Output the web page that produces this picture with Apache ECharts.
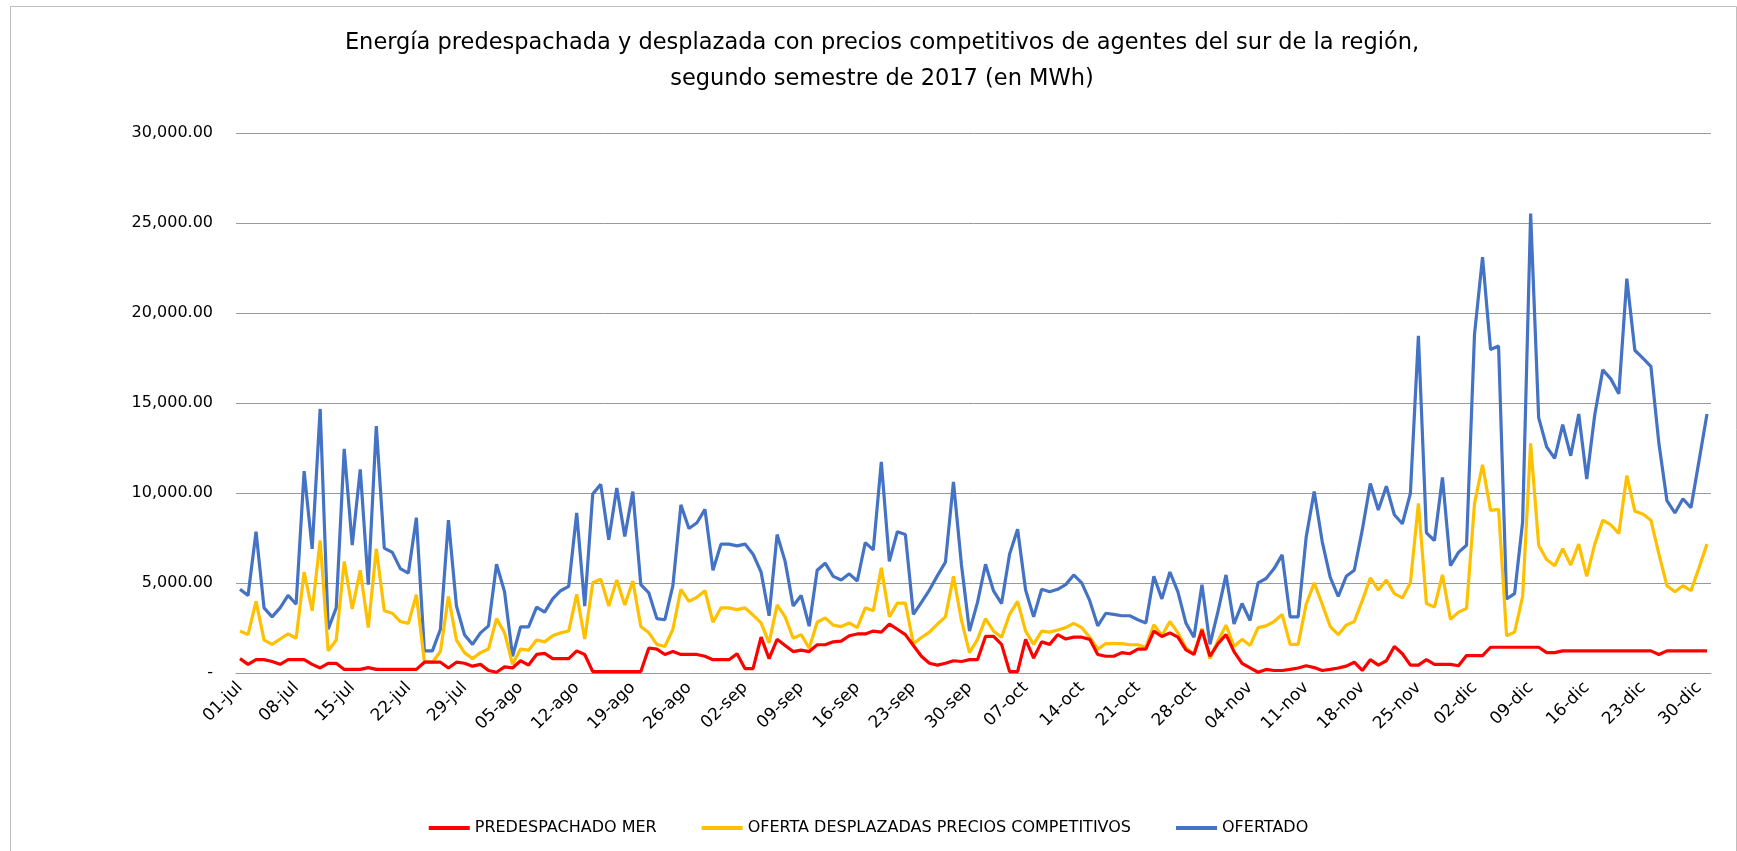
<!DOCTYPE html>
<html>
<head>
<meta charset="utf-8">
<title>Energía predespachada y desplazada</title>
<script src="https://cdn.jsdelivr.net/npm/echarts@6/dist/echarts.min.js"></script>
<style>
  html, body { margin: 0; padding: 0; background: #fff; }
  #chart { width: 1737px; height: 851px; }
</style>
</head>
<body>
<div id="chart"></div>
<script>
// meses del segundo semestre y sus días
const months = ['jul', 'ago', 'sep', 'oct', 'nov', 'dic'];
const monthDays = [31, 31, 30, 31, 30, 31];

const categories = [];
months.forEach((m, i) => {
  for (let d = 1; d <= monthDays[i]; d++) {
    categories.push((d < 10 ? '0' + d : '' + d) + '-' + m);
  }
});

const seriesNames = ['PREDESPACHADO MER', 'OFERTA DESPLAZADAS PRECIOS COMPETITIVOS', 'OFERTADO'];

// valores diarios en MWh
const predespachado = [
  800, 480, 740, 740, 640, 480, 740, 740, 740, 480, 280, 540, 540, 200, 200, 200, 300, 200, 200, 200, 200, 200, 200, 600,
  600, 600, 280, 600, 540, 380, 480, 140, 40, 340, 280, 680, 440, 1030, 1090, 800, 800, 800, 1230, 1030, 80, 80, 80, 80,
  80, 80, 80, 1390, 1330, 1030, 1190, 1030, 1030, 1030, 930, 740, 740, 740, 1070, 240, 240, 1990, 800, 1870, 1530, 1190, 1270,
  1190, 1570, 1570, 1730, 1770, 2070, 2170, 2170, 2330, 2270, 2720, 2430, 2130, 1530, 930, 540, 440, 540, 680, 640, 740, 740, 2030,
  2030, 1590, 80, 80, 1870, 830, 1730, 1590, 2130, 1890, 1990, 1990, 1870, 1030, 930, 930, 1130, 1070, 1330, 1330, 2330, 2030, 2230, 1990,
  1280, 1030, 2390, 930, 1630, 2130, 1190, 540, 280, 40, 200, 140, 140, 200, 280, 400, 300, 140, 200, 280, 380, 600, 140, 740,
  440, 680, 1470, 1070, 440, 440, 740, 480, 480, 480, 400, 970, 970, 970, 1430, 1430, 1430, 1430, 1430, 1430, 1430, 1130, 1130, 1230,
  1230, 1230, 1230, 1230, 1230, 1230, 1230, 1230, 1230, 1230, 1230, 1030, 1230, 1230, 1230, 1230, 1230, 1230
];

const ofertaDesplazada = [
  2330, 2130, 3980, 1830, 1590, 1890, 2170, 1930, 5610, 3460, 7360, 1230, 1830, 6200, 3560, 5710, 2520, 6900, 3460, 3320, 2860, 2760, 4350, 640,
  600, 1190, 4250, 1830, 1130, 800, 1130, 1330, 3020, 2230, 480, 1330, 1270, 1830, 1730, 2070, 2230, 2330, 4370, 1890, 5010, 5210, 3720, 5170,
  3780, 5110, 2580, 2230, 1590, 1470, 2430, 4650, 3980, 4210, 4570, 2820, 3620, 3620, 3520, 3620, 3220, 2780, 1670, 3780, 3120, 1930, 2130,
  1380, 2820, 3060, 2660, 2580, 2780, 2520, 3620, 3460, 5840, 3120, 3880, 3880, 1630, 1970, 2270, 2720, 3120, 5370, 2920, 1130, 1870, 3020,
  2330, 1990, 3260, 3980, 2330, 1590, 2330, 2270, 2390, 2520, 2760, 2520, 1990, 1330, 1630, 1630, 1630, 1570, 1570, 1430, 2680, 2070, 2860, 2230,
  1400, 1030, 2470, 800, 1790, 2660, 1470, 1870, 1530, 2520, 2620, 2860, 3260, 1590, 1590, 3820, 5010, 3820, 2580, 2130, 2660, 2860, 4020, 5280,
  4610, 5170, 4410, 4170, 5010, 9420, 3860, 3660, 5450, 2980, 3380, 3580, 9420, 11570, 9030, 9090, 2070, 2270, 4250, 12760, 7100, 6300, 5960, 6900,
  6000, 7160, 5370, 7160, 8490, 8230, 7750, 10970, 8990, 8830, 8490, 6600, 4850, 4510, 4850, 4570, 5840, 7160
];

const ofertado = [
  4650, 4300, 7850, 3620, 3120, 3620, 4310, 3820, 11210, 6900, 14670, 2430, 3620, 12450, 7100, 11310, 4910, 13720, 6940, 6700, 5800, 5550, 8630, 1230,
  1230, 2430, 8490, 3720, 2130, 1590, 2230, 2620, 6040, 4510, 930, 2560, 2560, 3660, 3380, 4120, 4570, 4810, 8890, 3720, 9940, 10480, 7400, 10280,
  7590, 10080, 4910, 4450, 3020, 2960, 4850, 9340, 8030, 8350, 9090, 5710, 7160, 7160, 7060, 7160, 6600, 5610, 3180, 7690, 6200, 3720, 4310,
  2600, 5710, 6100, 5370, 5170, 5510, 5110, 7240, 6840, 11730, 6200, 7850, 7690, 3260, 3920, 4610, 5410, 6160, 10620, 6000, 2330, 3920, 6040,
  4560, 3860, 6600, 7990, 4610, 3120, 4650, 4510, 4650, 4910, 5450, 5010, 4020, 2620, 3320, 3260, 3180, 3180, 2960, 2780, 5370, 4120, 5610, 4510,
  2770, 1990, 4910, 1590, 3420, 5450, 2720, 3860, 2920, 5010, 5250, 5800, 6560, 3120, 3120, 7550, 10080, 7300, 5310, 4250, 5370, 5710, 7950, 10530,
  9060, 10380, 8790, 8290, 9980, 18730, 7790, 7360, 10870, 5960, 6700, 7100, 18830, 23100, 17970, 18170, 4120, 4410, 8390, 25530, 14190, 12560, 11930, 13800,
  12070, 14390, 10780, 14350, 16840, 16340, 15510, 21910, 17930, 17490, 17040, 12760, 9580, 8890, 9680, 9180, 11770, 14390
];

const colors = ['#FF0000', '#FFC000', '#4472C4'];
const FONT = 'DejaVu Sans';

const chart = echarts.init(document.getElementById('chart'));

function fmtY(v) {
  if (v === 0) return '-';
  return v.toLocaleString('en-US', { minimumFractionDigits: 2, maximumFractionDigits: 2 });
}

const option = {
  animation: false,
  color: colors,
  title: {
    text: 'Energía predespachada y desplazada con precios competitivos de agentes del sur de la región,\nsegundo semestre de 2017 (en MWh)',
    left: 877,
    textAlign: 'center',
    top: 20,
    textStyle: {
      fontFamily: FONT,
      fontSize: 22.5,
      fontWeight: 'normal',
      color: '#000',
      lineHeight: 36
    }
  },
  graphic: [{
    type: 'rect',
    left: 8,
    top: 4,
    shape: { width: 1726, height: 900 },
    style: { fill: 'none', stroke: '#bfbfbf', lineWidth: 1 },
    silent: true
  }],
  legend: {
    data: seriesNames,
    left: 'center',
    top: 815,
    icon: 'rect',
    itemWidth: 41,
    itemHeight: 4,
    itemGap: 45,
    textStyle: { fontFamily: FONT, fontSize: 16, color: '#000' }
  },
  grid: {
    left: 236,
    right: 26,
    top: 133,
    bottom: 178
  },
  xAxis: {
    type: 'category',
    data: categories,
    boundaryGap: true,
    axisLine: { lineStyle: { color: '#999', width: 1 } },
    axisTick: { show: false },
    axisLabel: {
      interval: 6,
      rotate: 45,
      margin: 12,
      fontFamily: FONT,
      fontSize: 17,
      color: '#000'
    },
    splitLine: { show: false }
  },
  yAxis: {
    type: 'value',
    min: 0,
    max: 30000,
    interval: 5000,
    axisLine: { show: false },
    axisTick: { show: false },
    axisLabel: {
      margin: 23,
      fontFamily: FONT,
      fontSize: 16,
      color: '#000',
      formatter: fmtY
    },
    splitLine: { lineStyle: { color: '#999', width: 1 } }
  },
  series: [
    { name: seriesNames[0], type: 'line', data: predespachado, z: 4 },
    { name: seriesNames[1], type: 'line', data: ofertaDesplazada, z: 3 },
    { name: seriesNames[2], type: 'line', data: ofertado, z: 2 }
  ].map(s => Object.assign(s, {
    symbol: 'none',
    lineStyle: { width: 3.2 }
  }))
};

chart.setOption(option);
window.addEventListener('resize', () => chart.resize());
</script>
</body>
</html>
